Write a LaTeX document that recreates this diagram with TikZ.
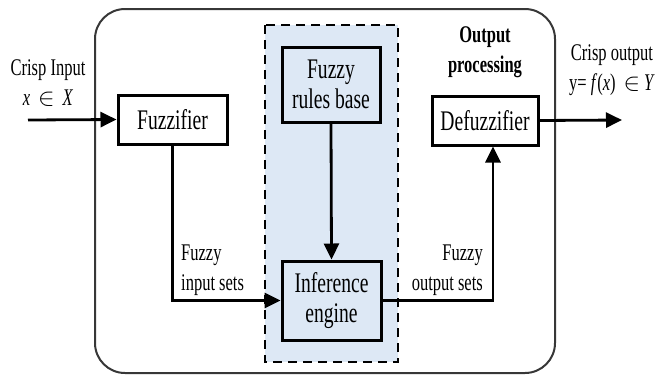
\documentclass[tikz,border=0pt]{standalone}
\usepackage{fontspec}
\setmainfont{Liberation Serif}[FakeStretch=0.69]
\usetikzlibrary{arrows.meta,calc}
\definecolor{panelblue}{RGB}{221,232,245}
\definecolor{framegray}{RGB}{55,55,55}
\newcommand\sidefont{\fontsize{24}{30}\selectfont}
\newcommand\boxfont{\fontsize{28.5}{30}\selectfont}
\tikzset{
  block/.style={draw, line width=3bp, inner sep=0pt, align=center, font=\boxfont},
  flow/.style={line width=2.8bp, -{Triangle[length=16bp,width=15bp]}},
  sidelabel/.style={align=center, font=\sidefont, inner sep=1bp},
}
\begin{document}
\begin{tikzpicture}[x=1bp, y=-1bp]
  \useasboundingbox (0,0) rectangle (664,376);
  % system frame
  \draw[framegray, line width=2bp, rounded corners=30bp] (95,9) rectangle (555,373);
  % knowledge / inference panel
  \draw[fill=panelblue, dash pattern=on 9bp off 6bp, line width=2bp] (265,25) rectangle (398,362);

  % processing blocks
  \node[block, minimum width=109bp, minimum height=49bp] (fuzz)   at (172.5,119.5) {Fuzzifier};
  \node[block, minimum width=106bp, minimum height=49bp] (defuzz) at (485,120.5)   {Defuzzifier};
  \node[block, minimum width=98bp,  minimum height=75bp] (rules)  at (331,84.5)    {Fuzzy\\rules base};
  \node[block, minimum width=99bp,  minimum height=79bp] (infer)  at (331.5,300.5) {Inference\\engine};

  % free ends of the input and output arrows
  \coordinate (xin)  at (28,120);
  \coordinate (yout) at (622,120);

  % signal flow
  \draw[flow] (xin) -- (fuzz.west);
  \draw[flow] (defuzz.east) -- (yout);
  \draw[flow] (rules.south) -- (infer.north);
  \draw[flow] (fuzz.south) |- (infer.west);
  \draw[flow] (infer.east) -| ($(defuzz.south)+(8,0)$);

  % labels
  \node[sidelabel] (inlbl) at (48,83) {Crisp Input\\\textit{x}\,\,$\in$\,\,\textit{X}};
  \node[sidelabel, font=\sidefont\bfseries] (outproc) at (485,52) {Output\\processing};
  \node[sidelabel] (outlbl) at (612,70) {Crisp output\\y= \textit{f}(\textit{x})\,\,$\in$\,\textit{Y}};
  \node[sidelabel, anchor=west, align=left] (fin) at (180,270) {Fuzzy\\input sets};
  \node[sidelabel, anchor=east, align=right] (fout) at (484,270) {Fuzzy\\output sets};
\end{tikzpicture}
\end{document}
